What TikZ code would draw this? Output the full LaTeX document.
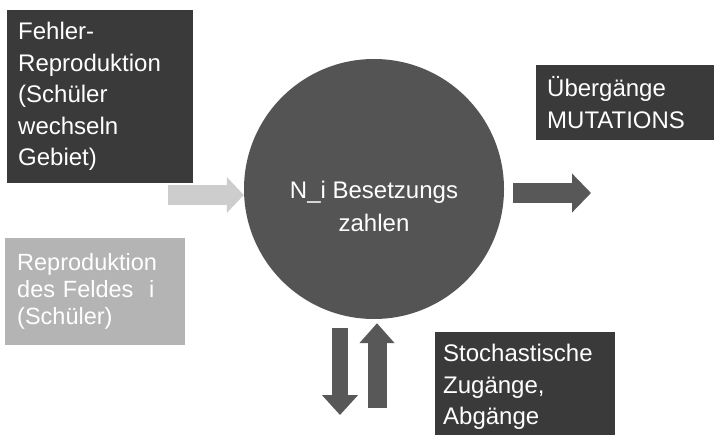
\documentclass[tikz,border=0pt]{standalone}
\usepackage{fontspec}
\setmainfont{Liberation Sans}
\usetikzlibrary{arrows.meta, positioning}
\definecolor{boxdark}{RGB}{58,58,58}
\definecolor{boxlight}{RGB}{180,180,180}
\definecolor{circlegray}{RGB}{84,84,84}
\definecolor{arrowgray}{RGB}{88,88,88}
\definecolor{arrowlight}{RGB}{205,205,205}

\begin{document}
\begin{tikzpicture}[
    x=1pt, y=-1pt,
    block/.style={rectangle, fill=#1, text=white, anchor=north west, align=left, inner xsep=11pt, inner ysep=2pt, font=\fontsize{24}{31.5}\selectfont},
    block/.default=boxdark,
    bigarrow/.style={draw=#1, line width=19pt, -{Triangle[length=19pt, width=36pt]}},
    bigarrow/.default=arrowgray,
    zahltext/.style={text=white, align=center, font=\fontsize{24}{33}\selectfont}
]

% Canvas
\fill[white] (0,0) rectangle (714,435);
\useasboundingbox (0,0) rectangle (714,435);

% Occupation numbers
\node[circle, fill=circlegray, minimum size=260pt, inner sep=0pt] (nzahl) at (374,189) {};
\node[zahltext] (nzahlLabel) at ([yshift=-17pt]nzahl.center) {N\_i Besetzungs\\zahlen};

% Sources on the left
\node[block, text width=164pt, minimum height=173pt] (fehler) at (7,10) {Fehler-\\Reproduktion\\(Schüler\\wechseln\\Gebiet)};
\node[block=boxlight, text width=156pt, inner xsep=12pt, minimum height=107pt, font=\fontsize{23.5}{27}\selectfont] (repro) at (5,238) {Reproduktion\\des Feldes\ \ i\\(Schüler)};

% Outputs on the right
\node[block, text width=168pt, minimum height=75pt] (mutation) at (536,65) {Übergänge\\MUTATIONS};
\node[block, text width=164pt, inner xsep=8pt, minimum height=110pt] (stoch) at (435,332) {Stochastische\\Zugänge,\\Abgänge};

% Free arrow ends
\coordinate (inStart) at (168,195);
\coordinate (outEnd) at (591,193);
\coordinate (downEnd) at (340,415);
\coordinate (upStart) at (377,408);

% Arrows
\draw[bigarrow=arrowlight, line width=20pt, -{Triangle[length=17pt, width=35pt]}] (inStart) -- (inStart -| nzahl.west);
\draw[bigarrow, line width=20pt, shorten <=9pt, -{Triangle[length=19pt, width=38pt]}] (outEnd -| nzahl.east) -- (outEnd);
\draw[bigarrow, line width=16pt, shorten <=9pt, -{Triangle[length=20pt, width=35pt]}] (downEnd |- nzahl.south) -- (downEnd);
\draw[bigarrow, line width=19pt, shorten >=4pt, -{Triangle[length=20pt, width=34pt]}] (upStart) -- (upStart |- nzahl.south);

\end{tikzpicture}
\end{document}
